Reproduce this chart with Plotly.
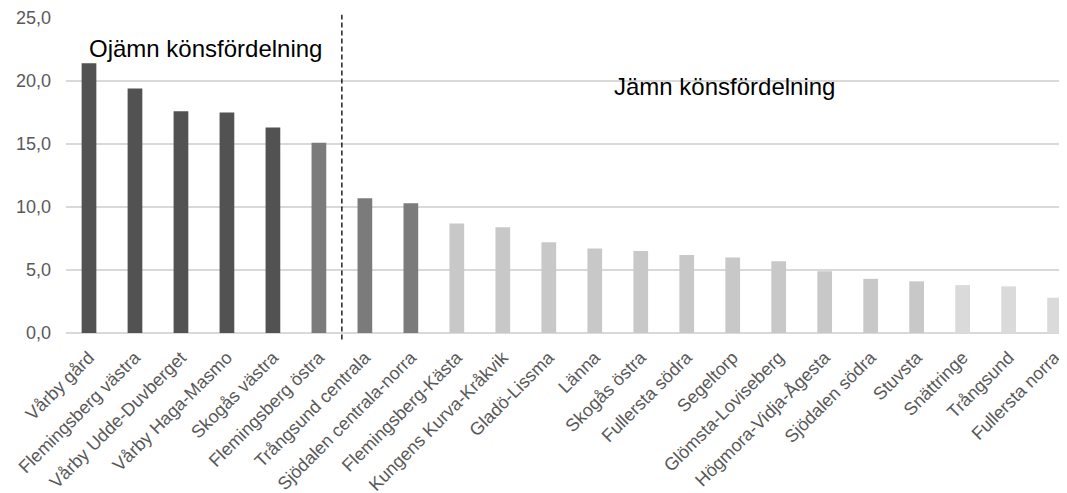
import plotly.graph_objects as go

categories = ["Vårby gård", "Flemingsberg västra", "Vårby Udde-Duvberget", "Vårby Haga-Masmo",
              "Skogås västra", "Flemingsberg östra", "Trångsund centrala", "Sjödalen centrala-norra",
              "Flemingsberg-Kästa", "Kungens Kurva-Kråkvik", "Gladö-Lissma", "Länna", "Skogås östra",
              "Fullersta södra", "Segeltorp", "Glömsta-Loviseberg", "Högmora-Vidja-Ågesta",
              "Sjödalen södra", "Stuvsta", "Snättringe", "Trångsund", "Fullersta norra"]
values = [21.4, 19.4, 17.6, 17.5, 16.3, 15.1, 10.7, 10.3, 8.7, 8.4, 7.2, 6.7, 6.5, 6.2,
          6.0, 5.7, 4.9, 4.3, 4.1, 3.8, 3.7, 2.8]
colors = ["#525252"] * 5 + ["#7b7b7b"] * 3 + ["#c8c8c9"] * 11 + ["#dadada"] * 3
y_ticks = [0, 5, 10, 15, 20, 25]
y_tick_text = ["0,0", "5,0", "10,0", "15,0", "20,0", "25,0"]

FONT = "Liberation Sans, Arial, sans-serif"

fig = go.Figure()
fig.add_trace(go.Bar(x=list(range(len(categories))), y=values, marker_color=colors,
                     marker_line_width=0, hoverinfo="skip"))

# page body has an 8px default margin, so the figure is sized/offset to compensate
fig.update_layout(
    width=1059, height=493,
    margin=dict(l=58, r=0, t=10, b=168),
    paper_bgcolor="white", plot_bgcolor="white",
    bargap=0.68,
    showlegend=False,
    font=dict(family=FONT, color="#595959", size=18),
    xaxis=dict(range=[-0.5, 21.27], tickmode="array", tickvals=list(range(len(categories))),
               ticktext=categories, tickangle=-45, showgrid=False, zeroline=False,
               showline=False, ticks="outside", ticklen=6, tickcolor="rgba(0,0,0,0)",
               automargin=False,
               tickfont=dict(size=18, color="#595959", family=FONT)),
    yaxis=dict(range=[0, 25], tickmode="array", tickvals=y_ticks, ticktext=y_tick_text,
               showgrid=True, gridcolor="#d9d9d9", gridwidth=1.5, zeroline=True,
               zerolinecolor="#d9d9d9", zerolinewidth=1.5, showline=False, ticks="",
               automargin=False, ticklabelstandoff=14,
               tickfont=dict(size=18, color="#595959", family=FONT)),
)

fig.add_shape(type="line", xref="x", yref="paper", x0=5.5, x1=5.5, y0=-0.021, y1=1.0105,
              line=dict(color="#000000", width=1.3, dash="5px,3px"))

fig.add_annotation(x=-0.04, y=22.6, xref="x", yref="y", text="Ojämn könsfördelning",
                   showarrow=False, xanchor="left", yanchor="middle",
                   font=dict(size=24, color="#000000", family=FONT))
fig.add_annotation(x=13.83, y=19.55, xref="x", yref="y", text="Jämn könsfördelning",
                   showarrow=False, xanchor="center", yanchor="middle",
                   font=dict(size=24, color="#000000", family=FONT))

fig.write_html("out.html")
